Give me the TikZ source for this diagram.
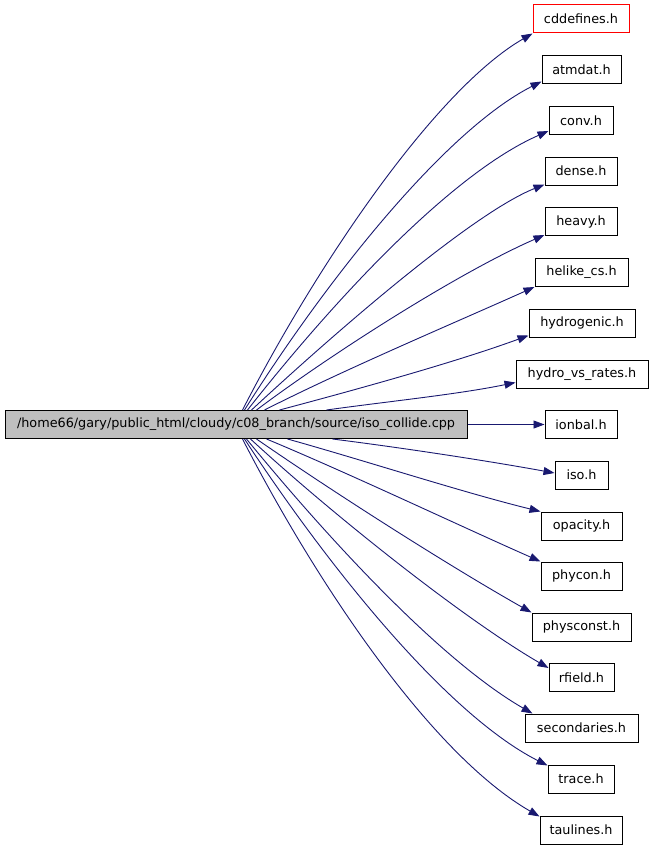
\documentclass[tikz,border=0pt]{standalone}
\usepackage{fontspec}
\setmainfont{DejaVu Sans}
\usetikzlibrary{arrows.meta}
\definecolor{edgeblue}{HTML}{191970}
\definecolor{maingray}{HTML}{BFBFBF}
\begin{document}
\begin{tikzpicture}[x=1pt,y=-1pt,
  box/.style={draw=black,line width=1pt,inner sep=0pt,minimum height=28pt,
    font=\fontsize{12.8}{15}\selectfont},
  redbox/.style={box,draw=red},
  dep/.style={draw=edgeblue,line width=0.9pt,-{Triangle[length=11pt,width=8pt]}}]
\useasboundingbox (0,0) rectangle (653,848);
\node[box,fill=maingray,minimum width=462pt] (main) at (236,424.5) {/home66/gary/public\_html/cloudy/c08\_branch/source/iso\_collide.cpp};
\node[redbox,minimum width=96pt] (cddefines) at (581,19) {cddefines.h};
\node[box,minimum width=79pt] (atmdat) at (581.5,70) {atmdat.h};
\node[box,minimum width=64pt] (conv) at (581,120.5) {conv.h};
\node[box,minimum width=72pt] (dense) at (581,171) {dense.h};
\node[box,minimum width=72pt] (heavy) at (581,221.5) {heavy.h};
\node[box,minimum width=93pt] (helike) at (581.5,272.5) {helike\_cs.h};
\node[box,minimum width=106pt] (hydrogenic) at (582,323) {hydrogenic.h};
\node[box,minimum width=132pt] (hydrovs) at (582,374) {hydro\_vs\_rates.h};
\node[box,minimum width=72pt] (ionbal) at (581,424.5) {ionbal.h};
\node[box,minimum width=53pt] (iso) at (581.5,475) {iso.h};
\node[box,minimum width=81pt] (opacity) at (581.5,526) {opacity.h};
\node[box,minimum width=81pt] (phycon) at (581.5,576) {phycon.h};
\node[box,minimum width=99pt] (physconst) at (581.5,627) {physconst.h};
\node[box,minimum width=65pt] (rfield) at (581.5,677.5) {rfield.h};
\node[box,minimum width=113pt] (secondaries) at (581.5,728) {secondaries.h};
\node[box,minimum width=66pt] (trace) at (581,779) {trace.h};
\node[box,minimum width=82pt] (taulines) at (581,830) {taulines.h};
% start points on main box
\coordinate (t1) at ([xshift=238pt]main.north west);
\coordinate (t2) at ([xshift=240pt]main.north west);
\coordinate (t3) at ([xshift=243pt]main.north west);
\coordinate (t4) at ([xshift=247pt]main.north west);
\coordinate (t5) at ([xshift=252pt]main.north west);
\coordinate (t6) at ([xshift=260pt]main.north west);
\coordinate (t7) at ([xshift=275pt]main.north west);
\coordinate (t8) at ([xshift=322pt]main.north west);
\coordinate (b1) at ([xshift=328pt]main.south west);
\coordinate (b2) at ([xshift=283pt]main.south west);
\coordinate (b3) at ([xshift=262pt]main.south west);
\coordinate (b4) at ([xshift=252pt]main.south west);
\coordinate (b5) at ([xshift=246pt]main.south west);
\coordinate (b6) at ([xshift=242pt]main.south west);
\coordinate (b7) at ([xshift=240pt]main.south west);
\coordinate (b8) at ([xshift=238pt]main.south west);
% edges
\draw[dep] (t1) .. controls (320.2,258.5) and (437.7,88) .. (cddefines.south west);
\draw[dep] (t2) .. controls (324.5,282.8) and (444,131) .. ([yshift=3pt]atmdat.south west);
\draw[dep] (t3) .. controls (328,307.6) and (448.5,174.7) .. ([yshift=4pt]conv.south west);
\draw[dep] (t4) .. controls (332.4,335) and (470.8,214) .. ([yshift=1pt]dense.south west);
\draw[dep] (t5) .. controls (336.9,349.8) and (462.8,270.6) .. ([yshift=1pt]heavy.south west);
\draw[dep] (t6) .. controls (345.2,369.1) and (452.8,323.6) .. (helike.south west);
\draw[dep] (t7) .. controls (357.3,389.3) and (454.8,362.4) .. ([yshift=2pt]hydrogenic.south west);
\draw[dep] (t8) .. controls (386.4,401.6) and (457.3,394.5) .. ([yshift=6pt]hydrovs.south west);
\draw[dep] (main.east) -- (ionbal.west);
\draw[dep] (b1) .. controls (402.4,447.8) and (486.3,460.6) .. ([yshift=2pt]iso.west);
\draw[dep] (b2) .. controls (364.9,460.6) and (463.4,492.6) .. (opacity.north west);
\draw[dep] (b3) .. controls (349.8,473.7) and (458.8,525.4) .. (phycon.north west);
\draw[dep] (b4) .. controls (338.9,495.9) and (453.3,568.4) .. (physconst.north west);
\draw[dep] (b5) .. controls (331.4,513.5) and (462.4,618) .. ([yshift=-5pt]rfield.north west);
\draw[dep] (b6) .. controls (322.5,531.8) and (437.7,659) .. ([xshift=8pt]secondaries.north west);
\draw[dep] (b7) .. controls (326.7,564.3) and (445.5,713.8) .. ([yshift=-1pt]trace.north west);
\draw[dep] (b8) .. controls (317.9,585.5) and (431.7,754.5) .. ([yshift=-1pt]taulines.north west);
\end{tikzpicture}
\end{document}
